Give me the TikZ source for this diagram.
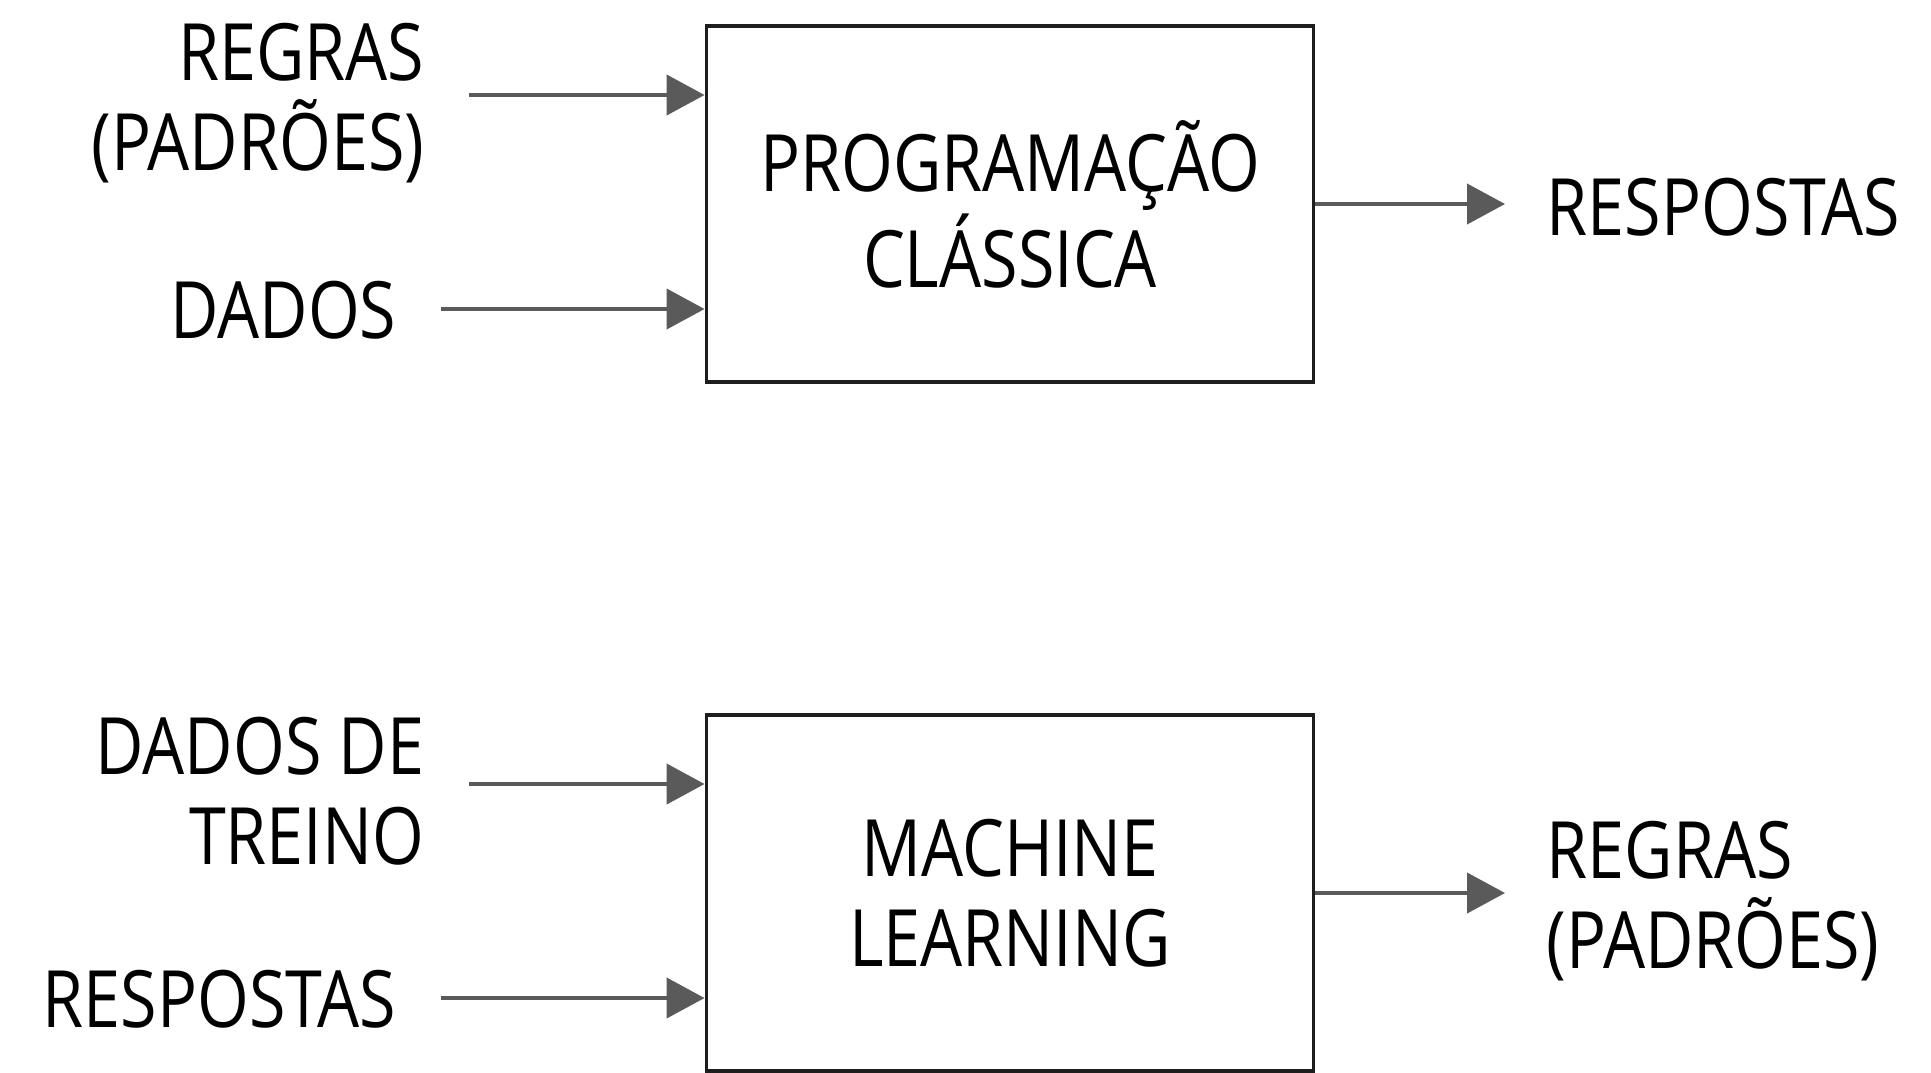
\documentclass[tikz,border=0pt]{standalone}
\usepackage{fontspec}
\setmainfont[FakeStretch=0.84]{Open Sans}
\usetikzlibrary{positioning,arrows.meta}
\definecolor{arrowgray}{RGB}{90,90,90}
\definecolor{boxline}{RGB}{30,30,30}

\begin{document}
\begin{tikzpicture}[x=0.01cm,y=-0.01cm,
    every node/.style={font=\fontsize{22.5}{25.5}\selectfont,inner sep=0pt},
    flow/.style={-{Triangle[length=0.38cm,width=0.4cm]},line width=1.2pt,arrowgray},
    block/.style={draw=boxline,line width=1pt,minimum width=6.07cm,minimum height=3.56cm,align=center}]
  \useasboundingbox (0,0) rectangle (1931,1072);

  \node[block] (prog) at (1010,204) {PROGRAMAÇÃO\\CLÁSSICA};
  \node[anchor=east,align=right] (regras) at (425,103) {REGRAS\\(PADRÕES)};
  \node[anchor=east] (dados) at (397,310) {DADOS};
  \node[anchor=west] (respostas) at (1546,207) {RESPOSTAS};
  \coordinate (regrasin) at (469,95);
  \coordinate (dadosin) at (441,309);
  \coordinate (progout) at (1505,204);
  \draw[flow] (regrasin) -- (regrasin -| prog.west);
  \draw[flow] (dadosin) -- (dadosin -| prog.west);
  \draw[flow] (prog.east) -- (progout);

  \node[block] (ml) at (1010,893) {MACHINE\\LEARNING};
  \node[anchor=east,align=right] (treino) at (425,791) {DADOS DE\\TREINO};
  \node[anchor=east] (respin) at (397,999) {RESPOSTAS};
  \node[anchor=west,align=left] (regrasout) at (1546,901) {REGRAS\\(PADRÕES)};
  \coordinate (treinoin) at (469,784);
  \coordinate (respostasin) at (441,998);
  \coordinate (mlout) at (1505,893);
  \draw[flow] (treinoin) -- (treinoin -| ml.west);
  \draw[flow] (respostasin) -- (respostasin -| ml.west);
  \draw[flow] (ml.east) -- (mlout);
\end{tikzpicture}
\end{document}
